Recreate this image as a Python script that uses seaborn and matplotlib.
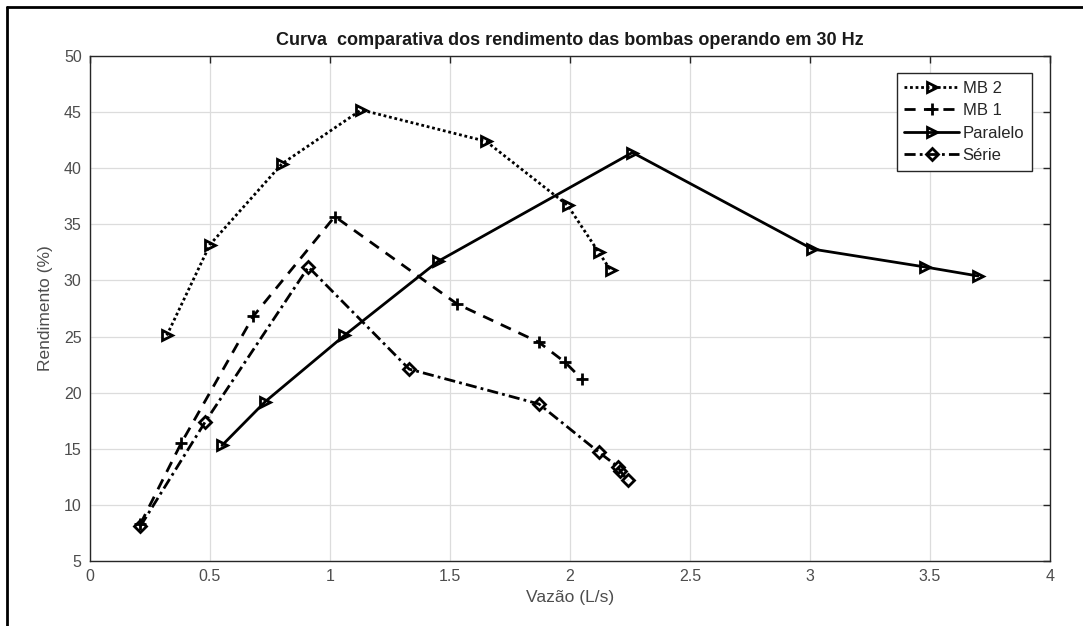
import pandas as pd
import matplotlib
matplotlib.use('Agg')
import matplotlib.pyplot as plt
from matplotlib.lines import Line2D
import seaborn as sns

# Dados (Vazão em L/s, Rendimento em %)
mb2_vazao = [0.32, 0.50, 0.80, 1.13, 1.65, 1.99, 2.12, 2.17]
mb2_rend = [25.1, 33.2, 40.4, 45.2, 42.4, 36.7, 32.5, 30.9]

mb1_vazao = [0.21, 0.38, 0.68, 1.02, 1.53, 1.87, 1.98, 2.05]
mb1_rend = [8.3, 15.5, 26.8, 35.7, 27.9, 24.5, 22.7, 21.2]

paralelo_vazao = [0.55, 0.73, 1.06, 1.45, 2.26, 3.01, 3.48, 3.70]
paralelo_rend = [15.3, 19.2, 25.1, 31.7, 41.4, 32.8, 31.2, 30.4]

serie_vazao = [0.21, 0.48, 0.91, 1.33, 1.87, 2.12, 2.20, 2.21, 2.24]
serie_rend = [8.1, 17.4, 31.2, 22.1, 19.0, 14.7, 13.4, 13.0, 12.2]

x_ticks = [0, 0.5, 1, 1.5, 2, 2.5, 3, 3.5, 4]
y_ticks = [5, 10, 15, 20, 25, 30, 35, 40, 45, 50]

sns.set_style('white')
plt.rcParams['font.family'] = ['Liberation Sans', 'DejaVu Sans']

fig = plt.figure(figsize=(10.83, 6.26), dpi=100)
ax = fig.add_axes([0.0831, 0.1038, 0.8864, 0.8067])

series = [
    ('MB 2', mb2_vazao, mb2_rend, (0, (1, 1)), '>'),
    ('MB 1', mb1_vazao, mb1_rend, (0, (4, 3)), '+'),
    ('Paralelo', paralelo_vazao, paralelo_rend, '-', '>'),
    ('Série', serie_vazao, serie_rend, (0, (4, 1.5, 1, 1.5)), 'D'),
]

handles = []
for nome, xs, ys, ls, mk in series:
    df = pd.DataFrame({'Vazao': xs, 'Rend': ys})
    msize = 9 if mk == '+' else 7.5
    if mk == 'D':
        msize = 6.5
    sns.lineplot(data=df, x='Vazao', y='Rend', ax=ax, sort=False, estimator=None,
                 color='black', linestyle=ls, linewidth=2.0, marker=mk,
                 markersize=msize, markerfacecolor='none', markeredgecolor='black',
                 markeredgewidth=2.0, zorder=3)
    handles.append(Line2D([0], [0], color='black', linestyle=ls, linewidth=2.0,
                          marker=mk, markersize=msize, markerfacecolor='none',
                          markeredgecolor='black', markeredgewidth=2.0, label=nome))

ax.set_xlim(0, 4)
ax.set_ylim(5, 50)
ax.set_xticks(x_ticks)
ax.set_xticklabels(['0', '0.5', '1', '1.5', '2', '2.5', '3', '3.5', '4'])
ax.set_yticks(y_ticks)
ax.grid(True, color='#dcdcdc', linewidth=0.9, zorder=0)
ax.tick_params(direction='in', length=5, width=1, colors='#262626',
               labelcolor='#4d4d4d', labelsize=11.5, top=True, right=True,
               pad=6)
for s in ax.spines.values():
    s.set_color('#262626')
    s.set_linewidth(1.0)

ax.set_xlabel('Vazão (L/s)', fontsize=12.5, color='#4d4d4d', labelpad=4)
ax.set_ylabel('Rendimento (%)', fontsize=12.5, color='#4d4d4d', labelpad=8)
ax.set_title('Curva  comparativa dos rendimento das bombas operando em 30 Hz',
             fontsize=13, fontweight='bold', color='#1a1a1a', pad=8)

leg = ax.legend(handles=handles, loc='upper right', bbox_to_anchor=(0.981, 0.966),
                fontsize=12, handlelength=3.3, handletextpad=0.2,
                borderpad=0.45, labelspacing=0.45, borderaxespad=0,
                frameon=True, fancybox=False, framealpha=1)
leg.get_frame().set_edgecolor('#262626')
leg.get_frame().set_linewidth(1.0)
for t in leg.get_texts():
    t.set_color('#262626')

# moldura da figura (topo e esquerda)
fig.add_artist(Line2D([7 / 1083, 7 / 1083], [0, 1 - 7 / 626], color='black',
                      linewidth=2, transform=fig.transFigure))
fig.add_artist(Line2D([7 / 1083, 1], [1 - 7 / 626, 1 - 7 / 626], color='black',
                      linewidth=2, transform=fig.transFigure))

fig.savefig('out.png', dpi=100)
